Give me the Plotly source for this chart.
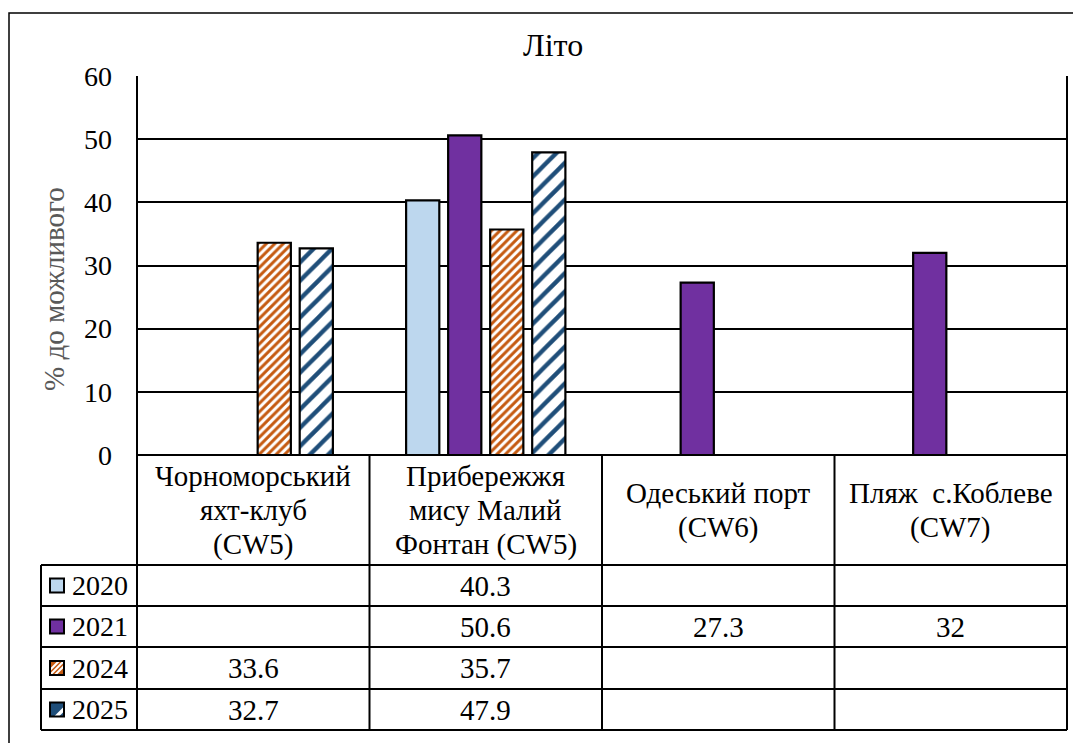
import plotly.graph_objects as go

W, H = 1081, 743

categories = [
    "Чорноморський<br>яхт-клуб<br>(CW5)",
    "Прибережжя<br>мису Малий<br>Фонтан (CW5)",
    "Одеський порт<br>(CW6)",
    "Пляж\u00a0 с.Коблеве<br>(CW7)",
]
years = ["2020", "2021", "2024", "2025"]
v2020 = [None, 40.3, None, None]
v2021 = [None, 50.6, 27.3, 32]
v2024 = [33.6, 35.7, None, None]
v2025 = [32.7, 47.9, None, None]
series = [v2020, v2021, v2024, v2025]

y_ticks = [0, 10, 20, 30, 40, 50, 60]

FONT = "'Times New Roman', 'Liberation Serif', serif"
colors = ["#BDD7EE", "#7030A0", "#C55A11", "#1F4E79"]
patterns = [
    dict(shape=""),
    dict(shape=""),
    dict(shape="/", fgcolor="#C55A11", bgcolor="white", size=6, solidity=0.5),
    dict(shape="/", fgcolor="#1F4E79", bgcolor="white", size=13, solidity=0.33),
]

# table geometry (page pixels)
PL, PR, PT, PB = 137, 1067, 76, 455
LEG_L = 41
HDR_B = 565
ROW_Y = [565, 606, 647, 689, 730]
COL_X = [PL + i * (PR - PL) / 4 for i in range(5)]
OFF = 8  # page body margin
LINE_H = 34


def px(x):
    return (x - OFF) / W


def py(y):
    return 1 - (y - OFF) / H


fig = go.Figure()
for name, vals, col, pat in zip(years, series, colors, patterns):
    fig.add_trace(
        go.Bar(
            x=categories,
            y=vals,
            name=name,
            marker=dict(color=col, pattern=pat, line=dict(color="black", width=2.2)),
            showlegend=False,
        )
    )

shapes = []
annotations = []


def line(x0, y0, x1, y1, w=2):
    shapes.append(
        dict(type="line", xref="paper", yref="paper", x0=px(x0), y0=py(y0),
             x1=px(x1), y1=py(y1), line=dict(color="black", width=w))
    )


def note(text, x, y, size, color="black", xanchor="center", angle=0):
    annotations.append(dict(text=text, x=px(x), y=py(y), xref="paper", yref="paper",
                            xanchor=xanchor, yanchor="middle", textangle=angle,
                            showarrow=False, font=dict(family=FONT, size=size, color=color)))


# outer chart border
shapes.append(dict(type="rect", xref="paper", yref="paper", x0=px(9), y0=py(13),
                   x1=px(1100), y1=py(770), line=dict(color="black", width=1.5)))
# table lines
line(PL, PB, PR, PB)
for y in ROW_Y:
    line(LEG_L, y, PR, y)
line(LEG_L, HDR_B, LEG_L, ROW_Y[-1])
line(PL, PT, PL, ROW_Y[-1])
line(PR, PT, PR, ROW_Y[-1])
for x in COL_X[1:-1]:
    line(x, PB, x, ROW_Y[-1])

note("Літо", 553, 45, 32)
note("% до можливого", 54, 289, 29, color="#595959", angle=-90)
for i, c in enumerate(categories):
    parts = c.split("<br>")
    y0 = (PB + HDR_B) / 2 - (len(parts) - 1) * LINE_H / 2
    for k, part in enumerate(parts):
        note(part, (COL_X[i] + COL_X[i + 1]) / 2, y0 + k * LINE_H, 29)

for r, (name, vals) in enumerate(zip(years, series)):
    yc = (ROW_Y[r] + ROW_Y[r + 1]) / 2
    note(name, 70, yc, 28, xanchor="left")
    for i, v in enumerate(vals):
        if v is not None:
            note(f"{v:g}", (COL_X[i] + COL_X[i + 1]) / 2, yc, 29)
    # legend key
    kx0, kx1 = 50, 64
    ky0, ky1 = yc - 7, yc + 7
    shapes.append(dict(type="rect", xref="paper", yref="paper", x0=px(kx0), x1=px(kx1),
                       y0=py(ky0), y1=py(ky1), fillcolor=colors[r], line=dict(width=0)))
    if r == 2:
        for off in (-5, 0, 5):
            shapes.append(dict(type="line", xref="paper", yref="paper",
                               x0=px(kx0 + off), y0=py(ky1), x1=px(kx1 + off), y1=py(ky0),
                               line=dict(color="white", width=2)))
        shapes.append(dict(type="rect", xref="paper", yref="paper", x0=px(kx1), x1=px(kx1 + 8),
                           y0=py(ky0 - 1), y1=py(ky1 + 1), fillcolor="white", line=dict(width=0)))
        shapes.append(dict(type="rect", xref="paper", yref="paper", x0=px(kx0 - 8), x1=px(kx0),
                           y0=py(ky0 - 1), y1=py(ky1 + 1), fillcolor="white", line=dict(width=0)))
    if r == 3:
        shapes.append(dict(type="path", xref="paper", yref="paper",
                           path=f"M{px(kx0 + 4)},{py(ky1)} L{px(kx1)},{py(ky0 + 4)} "
                                f"L{px(kx1)},{py(ky0 + 9)} L{px(kx0 + 9)},{py(ky1)} Z",
                           fillcolor="white", line=dict(width=0)))
    shapes.append(dict(type="rect", xref="paper", yref="paper", x0=px(kx0), x1=px(kx1),
                       y0=py(ky0), y1=py(ky1), line=dict(color="black", width=2)))

fig.update_layout(
    template="none",
    width=W,
    height=H,
    margin=dict(l=0, r=0, t=0, b=0),
    paper_bgcolor="white",
    plot_bgcolor="white",
    font=dict(family=FONT),
    barmode="group",
    bargap=0.277,
    bargroupgap=0.21,
    xaxis=dict(domain=[px(PL), px(PR)], showticklabels=False, showgrid=False,
               showline=False, zeroline=False, ticks="", automargin=False),
    yaxis=dict(domain=[py(PB), py(PT)], range=[0, 60], tickvals=y_ticks,
               showgrid=True, gridcolor="black", gridwidth=2, zeroline=False,
               showline=False, ticks="", ticklabelstandoff=24, automargin=False,
               tickfont=dict(family=FONT, size=28, color="black")),
    shapes=shapes,
    annotations=annotations,
)

fig.write_html("out.html")
